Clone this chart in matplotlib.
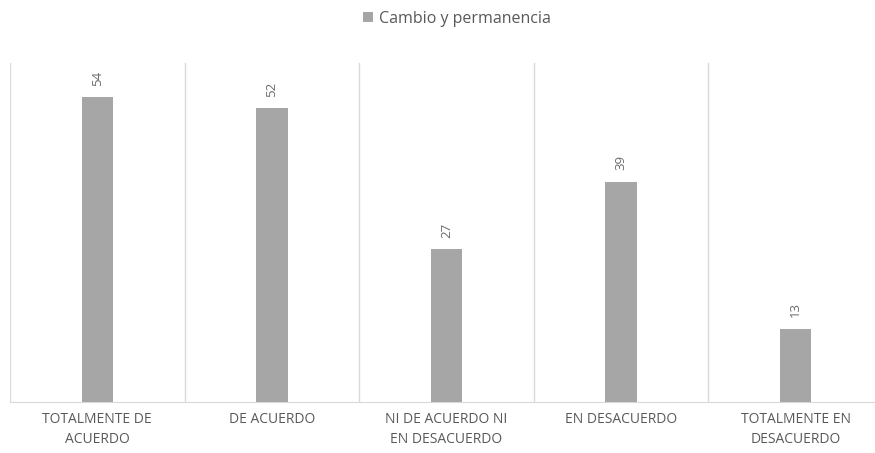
import matplotlib.pyplot as plt
import numpy as np

categorias = ['TOTALMENTE DE\nACUERDO', 'DE ACUERDO', 'NI DE ACUERDO NI\nEN DESACUERDO',
              'EN DESACUERDO', 'TOTALMENTE EN\nDESACUERDO']
valores = [54, 52, 27, 39, 13]
serie = 'Cambio y permanencia'

plt.rcParams['font.family'] = ['Open Sans', 'DejaVu Sans']

fig = plt.figure(figsize=(8.75, 4.53), dpi=100)
ax = fig.add_axes([10 / 875, 1 - 402 / 453, 873 / 875, 339 / 453])

x = np.arange(len(valores))
bars = ax.bar(x, valores, width=0.18, color='#a6a6a6', label=serie, zorder=3)

for xi, v in zip(x, valores):
    ax.text(xi, v + 2.0, str(v), rotation=90, ha='center', va='bottom',
            fontsize=9.5, color='#6b6b6b')

ax.set_xlim(-0.5, len(valores) - 0.5)
ax.set_ylim(0, 60)
ax.set_yticks([])
ax.set_xticks(x)
ax.set_xticklabels(categorias, fontsize=10, color='#595959', linespacing=1.45)
ax.tick_params(axis='x', length=0, pad=7)

# lineas verticales entre categorias
for b in np.arange(-0.5, len(valores), 1.0):
    ax.axvline(b, color='#d9d9d9', lw=1, zorder=1)

for s in ['top', 'left', 'right']:
    ax.spines[s].set_visible(False)
ax.spines['bottom'].set_color('#d9d9d9')

fig.legend(handles=[bars], labels=[serie], loc='center', bbox_to_anchor=(457 / 875, 1 - 19 / 453),
           frameon=False, fontsize=11.5, labelcolor='#595959', handlelength=0.6,
           handleheight=0.6, handletextpad=0.4)

fig.savefig('out.png', dpi=100)
